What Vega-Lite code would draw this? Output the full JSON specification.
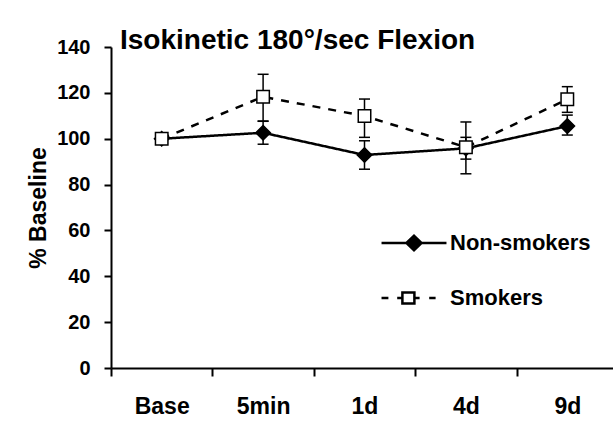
{
  "$schema": "https://vega.github.io/schema/vega-lite/v6.json",
  "width": 502,
  "height": 321,
  "autosize": {"type": "none"},
  "padding": {"left": 111, "top": 47, "right": 0, "bottom": 55},
  "background": "white",
  "config": {
    "view": {"stroke": null},
    "font": "Liberation Sans",
    "axisY": {
      "labelFont": "Liberation Sans",
      "labelFontSize": 20,
      "labelFontWeight": "bold",
      "labelColor": "black",
      "labelPadding": 14,
      "tickSize": 7,
      "tickWidth": 2,
      "tickColor": "black",
      "domainColor": "black",
      "domainWidth": 2,
      "grid": false,
      "titleFont": "Liberation Sans",
      "titleFontSize": 23,
      "titleFontWeight": "bold",
      "titleColor": "black",
      "titlePadding": 6
    }
  },
  "title": {
    "text": "Isokinetic 180°/sec Flexion",
    "anchor": "start",
    "frame": "group",
    "dx": 9,
    "fontSize": 28,
    "font": "Liberation Sans",
    "fontWeight": "bold",
    "color": "black",
    "baseline": "alphabetic",
    "offset": -40
  },
  "data": {
    "values": [
      {"t": "Base", "series": "Non-smokers", "v": 100, "lo": null, "hi": null},
      {"t": "5min", "series": "Non-smokers", "v": 102.6, "lo": 97.6, "hi": 107.6},
      {"t": "1d", "series": "Non-smokers", "v": 92.9, "lo": 86.7, "hi": 99.1},
      {"t": "4d", "series": "Non-smokers", "v": 95.8, "lo": 91.1, "hi": 100.6},
      {"t": "9d", "series": "Non-smokers", "v": 105.5, "lo": 101.6, "hi": 110.3},
      {"t": "Base", "series": "Smokers", "v": 100, "lo": null, "hi": null},
      {"t": "5min", "series": "Smokers", "v": 118.3, "lo": 107.7, "hi": 128.1},
      {"t": "1d", "series": "Smokers", "v": 109.9, "lo": 100.6, "hi": 117.3},
      {"t": "4d", "series": "Smokers", "v": 96.3, "lo": 84.7, "hi": 107.3},
      {"t": "9d", "series": "Smokers", "v": 117.2, "lo": 111.5, "hi": 122.7}
    ]
  },
  "encoding": {
    "x": {
      "field": "t",
      "type": "nominal",
      "sort": ["Base", "5min", "1d", "4d", "9d"],
      "scale": {"paddingInner": 0, "paddingOuter": 0, "range": [0, 507]},
      "axis": {
        "title": null,
        "labelAngle": 0,
        "labelFont": "Liberation Sans",
        "labelFontSize": 23,
        "labelFontWeight": "bold",
        "labelColor": "black",
        "labelPadding": 19,
        "tickSize": 8,
        "tickWidth": 2,
        "tickColor": "black",
        "tickBand": "extent",
        "domainColor": "black",
        "domainWidth": 2,
        "grid": false
      }
    }
  },
  "layer": [
    {
      "mark": {"type": "point", "filled": true, "opacity": 0},
      "encoding": {
        "y": {"field": "v", "type": "quantitative", "title": "% Baseline", "scale": {"domain": [0, 140], "nice": false}, "axis": {"values": [0, 20, 40, 60, 80, 100, 120, 140]}},
        "shape": {
          "field": "series",
          "type": "nominal",
          "scale": {
            "domain": ["Non-smokers", "Smokers"],
            "range": [
              "M-4.06,0H4.06M-0.94,0L0,-0.9L0.94,0L0,0.9Z",
              "M-4.06,0H-3.2M-2.1,0H-1.45M0.05,0H0.7M1.9,0H2.7M-1.45,-0.69H0.05V0.69H-1.45Z"
            ]
          },
          "legend": {
            "title": null,
            "orient": "none",
            "legendX": 292,
            "legendY": 185,
            "padding": 0,
            "symbolSize": 256,
            "labelOffset": 25,
            "rowPadding": 31,
            "labelFont": "Liberation Sans",
            "labelFontSize": 22,
            "labelFontWeight": "bold",
            "labelColor": "black",
            "encoding": {
              "symbols": {
                "fill": {"value": {"expr": "datum.value === 'Non-smokers' ? 'black' : 'white'"}},
                "stroke": {"value": "black"},
                "strokeWidth": {"value": 2.5},
                "opacity": {"value": 1}
              }
            }
          }
        }
      }
    },
    {
      "transform": [{"filter": "datum.lo != null"}],
      "mark": {"type": "rule", "color": "black", "strokeWidth": 1.5},
      "encoding": {
        "y": {"field": "lo", "type": "quantitative", "title": "% Baseline", "scale": {"domain": [0, 140], "nice": false}, "axis": {"values": [0, 20, 40, 60, 80, 100, 120, 140]}},
        "y2": {"field": "hi"}
      }
    },
    {
      "transform": [{"filter": "datum.lo != null"}],
      "mark": {"type": "tick", "color": "black", "size": 11, "thickness": 1.5, "opacity": 1},
      "encoding": {
        "y": {"field": "lo", "type": "quantitative", "title": "% Baseline", "scale": {"domain": [0, 140], "nice": false}, "axis": {"values": [0, 20, 40, 60, 80, 100, 120, 140]}}
      }
    },
    {
      "transform": [{"filter": "datum.lo != null"}],
      "mark": {"type": "tick", "color": "black", "size": 11, "thickness": 1.5, "opacity": 1},
      "encoding": {
        "y": {"field": "hi", "type": "quantitative", "title": "% Baseline", "scale": {"domain": [0, 140], "nice": false}, "axis": {"values": [0, 20, 40, 60, 80, 100, 120, 140]}}
      }
    },
    {
      "mark": {"type": "line", "stroke": "black", "strokeWidth": 2.5},
      "encoding": {
        "y": {"field": "v", "type": "quantitative", "title": "% Baseline", "scale": {"domain": [0, 140], "nice": false}, "axis": {"values": [0, 20, 40, 60, 80, 100, 120, 140]}},
        "detail": {"field": "series"},
        "strokeDash": {
          "field": "series",
          "type": "nominal",
          "scale": {"range": [[1, 0], [8, 8]]},
          "legend": null
        }
      }
    },
    {
      "mark": {"type": "point", "filled": true, "stroke": "black", "strokeWidth": 1.5, "opacity": 1},
      "encoding": {
        "y": {"field": "v", "type": "quantitative", "title": "% Baseline", "scale": {"domain": [0, 140], "nice": false}, "axis": {"values": [0, 20, 40, 60, 80, 100, 120, 140]}},
        "size": {"condition": {"test": "datum.series === 'Non-smokers'", "value": 210}, "value": 156},
        "fill": {"condition": {"test": "datum.series === 'Non-smokers'", "value": "black"}, "value": "white"},
        "shape": {"condition": {"test": "datum.series === 'Non-smokers'", "value": "diamond"}, "value": "square"}
      }
    }
  ]
}
